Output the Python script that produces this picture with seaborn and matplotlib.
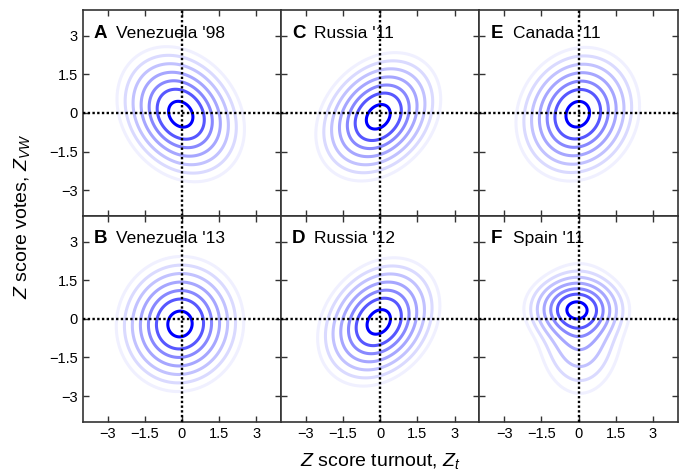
import numpy as np
import matplotlib
matplotlib.use("Agg")
import matplotlib.pyplot as plt
import seaborn as sns

# Panel labels and election names (A..F as laid out in the grid)
panel_letters = ["A", "C", "E", "B", "D", "F"]
panel_names = ["Venezuela '98", "Russia '11", "Canada '11",
               "Venezuela '13", "Russia '12", "Spain '11"]

# Main bivariate component per panel
main_mx = [-0.05, -0.08, -0.03, -0.08, -0.06, -0.10]
main_my = [-0.05, -0.15, -0.05, -0.20, -0.12, 0.40]
main_sx = [0.98, 0.96, 0.95, 0.98, 0.94, 0.82]
main_sy = [1.00, 0.95, 0.99, 1.00, 0.95, 0.58]
main_rho = [-0.22, 0.27, 0.12, 0.03, 0.25, 0.0]

# Secondary component (only Spain has a visible lower tail)
tail_w = [0.0, 0.0, 0.0, 0.0, 0.0, 0.40]
tail_mx = [0.0, 0.0, 0.0, 0.0, 0.0, 0.05]
tail_my = [0.0, 0.0, 0.0, 0.0, 0.0, -0.45]
tail_sx = [1.0, 1.0, 1.0, 1.0, 1.0, 0.78]
tail_sy = [1.0, 1.0, 1.0, 1.0, 1.0, 1.15]

# Contour levels as fraction of the peak density (outer -> inner)
contour_levels = [0.032, 0.073, 0.146, 0.265, 0.430, 0.625, 0.882]

ticks = [-3, -1.5, 0, 1.5, 3]
tick_labels = ["\u22123", "\u22121.5", "0", "1.5", "3"]

sns.set_style("ticks", {"xtick.direction": "in", "ytick.direction": "in",
                        "xtick.top": True, "ytick.right": True,
                        "axes.edgecolor": "#333333",
                        "text.color": "black",
                        "xtick.color": "black", "ytick.color": "black"})
plt.rcParams['font.family'] = ['Liberation Sans', 'DejaVu Sans']
plt.rcParams['mathtext.fontset'] = 'custom'
plt.rcParams['mathtext.rm'] = 'Liberation Sans'
plt.rcParams['mathtext.it'] = 'Liberation Sans:italic'

# light lavender -> pure blue, one colour per level
ring_colors = sns.blend_palette(["#f0f0ff", "#dadaff", "#c2c2ff", "#a6a6ff",
                                 "#8888ff", "#5858ff", "#0000ff"], 7)
ring_widths = [2.2, 2.2, 2.2, 2.2, 2.2, 2.2, 2.2]


def gauss(X, Y, mx, my, sx, sy, rho):
    dx = (X - mx) / sx
    dy = (Y - my) / sy
    q = (dx**2 - 2 * rho * dx * dy + dy**2) / (1 - rho**2)
    return np.exp(-q / 2)


fig, axes = plt.subplots(2, 3, figsize=(6.79, 4.75), dpi=100,
                         sharex=True, sharey=True)
fig.subplots_adjust(left=0.122, right=0.998, top=0.979, bottom=0.112,
                    wspace=0, hspace=0)

g = np.linspace(-4, 4, 401)
X, Y = np.meshgrid(g, g)

for i, ax in enumerate(axes.flat):
    Z = gauss(X, Y, main_mx[i], main_my[i], main_sx[i], main_sy[i], main_rho[i])
    if tail_w[i] > 0:
        Z = Z + tail_w[i] * gauss(X, Y, tail_mx[i], tail_my[i],
                                  tail_sx[i], tail_sy[i], 0.0)
    Z = Z / Z.max()
    ax.contour(X, Y, Z, levels=contour_levels, colors=ring_colors,
               linewidths=ring_widths)
    ax.axhline(0, color="black", lw=1.7, ls=(0, (1, 1)), zorder=3)
    ax.axvline(0, color="black", lw=1.7, ls=(0, (1, 1)), zorder=3)
    ax.set_xlim(-4, 4)
    ax.set_ylim(-4, 4)
    ax.set_xticks(ticks)
    ax.set_yticks(ticks)
    ax.set_xticklabels(tick_labels)
    ax.set_yticklabels(tick_labels)
    ax.tick_params(length=4, width=1, labelsize=10.5, color="#333333",
                   labelcolor="black")
    for sp in ax.spines.values():
        sp.set_linewidth(1.2)
    ax.text(0.055, 0.866, panel_letters[i], transform=ax.transAxes,
            fontsize=13.5, fontweight="bold", va="baseline")
    ax.text(0.168, 0.866, panel_names[i], transform=ax.transAxes,
            fontsize=12.5, va="baseline")

fig.text(0.56, 0.008, r"$Z$ score turnout, $Z_t$", ha="center",
         va="bottom", fontsize=14)
fig.text(0.018, 0.545, r"$Z$ score votes, $Z_{VW}$", rotation=90,
         ha="left", va="center", fontsize=14)

fig.savefig("out.png", dpi=100)
